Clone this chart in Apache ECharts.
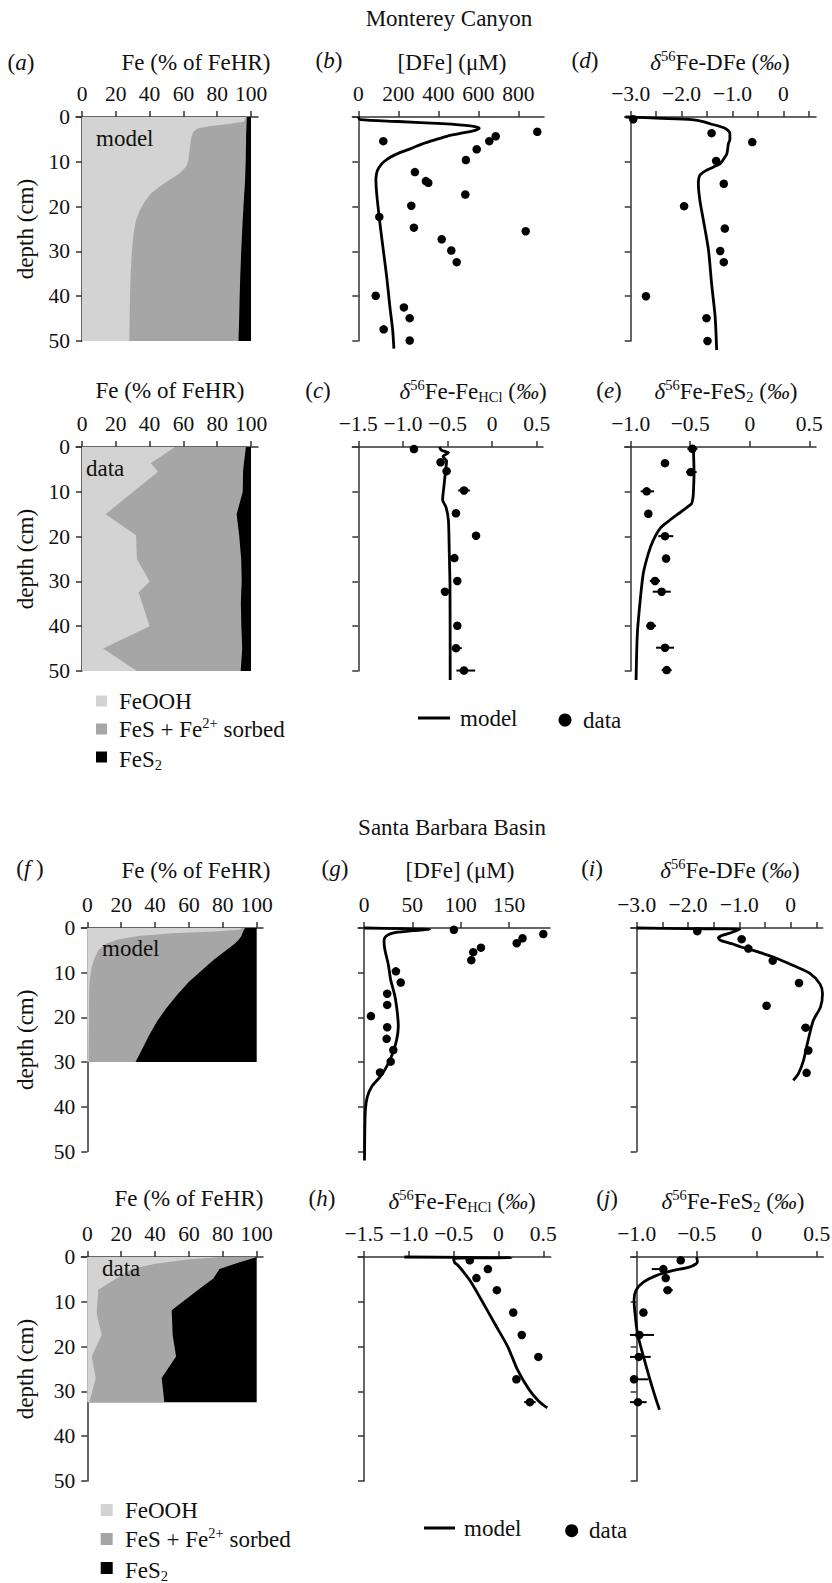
<!DOCTYPE html>
<html lang="en">
<head>
<meta charset="UTF-8">
<title>Fe speciation and isotope profiles</title>
<script src="https://cdn.jsdelivr.net/npm/echarts@6.0.0/dist/echarts.min.js"></script>
<style>
    html, body { margin: 0; padding: 0; background: #fff; }
    #chart { width: 832px; height: 1583px; }
</style>
</head>
<body>
<div id="chart"></div>
<script>
// ---------- Monterey Canyon: solid-phase Fe (% of FeHR) ----------
var mcModelDepth = [0, 1.0, 1.5, 2.0, 2.5, 3.2, 4.5, 7, 9.5, 10.8, 11.8, 12.8, 14, 15.5, 17, 19, 21, 23, 26, 30, 35, 40, 45, 50];
var mcModelFeOOH = [97, 96, 88, 76, 69, 66, 64.7, 63.8, 63, 62, 60, 57, 52, 46, 41, 37, 34, 32, 30.5, 29.5, 28.8, 28.4, 28.2, 28];
var mcModelFeS   = [0.5, 1.4, 9.4, 21.3, 28.3, 31.2, 32.4, 33.2, 33.9, 34.8, 36.7, 39.6, 44.5, 50.3, 55, 58.7, 61.4, 63.1, 64.2, 64.7, 64.9, 64.9, 64.8, 64.6];
var mcModelFeS2  = [2.5, 2.6, 2.6, 2.7, 2.7, 2.8, 2.9, 3, 3.1, 3.2, 3.3, 3.4, 3.5, 3.7, 4, 4.3, 4.6, 4.9, 5.3, 5.8, 6.3, 6.7, 7, 7.4];

var mcDataDepth = [0, 3.6, 5.5, 10, 15, 19.7, 25, 30, 32.5, 35, 40, 45, 50];
var mcDataFeOOH = [55, 40.7, 45, 30.3, 14, 32, 32.5, 40, 33.5, 35.7, 40, 12.5, 32.5];
var mcDataFeS   = [42, 55.1, 50.3, 64.8, 77.5, 61, 61.7, 54.5, 60.7, 58.3, 54.3, 82.3, 61.4];
var mcDataFeS2  = [3, 4.2, 4.7, 4.9, 8.5, 7, 5.8, 5.5, 5.8, 6, 5.7, 5.2, 6.1];

// ---------- Monterey Canyon: [DFe] (uM) ----------
var mcDfeModelDepth = [0, 0.6, 1.0, 1.5, 2.0, 2.5, 3.0, 3.5, 4.2, 5, 6, 7, 8, 9, 10, 11, 12, 13, 14, 16, 18.5, 23.7, 29.7, 35.7, 42.4, 47.6, 51.7];
var mcDfeModel      = [0, 10, 200, 420, 560, 605, 585, 530, 450, 390, 320, 265, 205, 160, 128, 108, 95, 90, 88, 90, 95, 108, 125, 142, 158, 172, 178];
var mcDfeDepth = [3.3, 4.3, 5.4, 5.4, 7.2, 9.6, 12.3, 14.3, 14.7, 17.3, 19.8, 22.3, 24.7, 25.5, 27.3, 29.8, 32.4, 39.9, 42.5, 44.9, 47.4, 49.9];
var mcDfe      = [895, 687, 655, 125, 592, 538, 283, 338, 350, 535, 265, 105, 278, 837, 417, 465, 492, 87, 228, 257, 127, 257];

// ---------- Monterey Canyon: d56Fe-DFe ----------
var mcDfeIsoModelDepth = [0, 0.3, 0.6, 1.0, 1.5, 2.5, 3.6, 5, 6, 8.2, 9.5, 10.4, 11.2, 11.9, 13, 14.9, 18.6, 23.1, 29.8, 37.2, 44.6, 52];
var mcDfeIsoModel      = [-3.1, -2.4, -1.8, -1.6, -1.44, -1.15, -1.05, -1.05, -1.08, -1.11, -1.18, -1.24, -1.38, -1.51, -1.64, -1.67, -1.64, -1.57, -1.47, -1.41, -1.34, -1.31];
var mcDfeIsoDepth = [0.5, 3.6, 5.6, 9.8, 14.9, 19.9, 24.9, 29.9, 32.4, 40, 44.9, 50];
var mcDfeIso      = [-2.95, -1.41, -0.61, -1.32, -1.17, -1.95, -1.15, -1.24, -1.17, -2.70, -1.51, -1.49];

// ---------- Monterey Canyon: d56Fe-FeHCl ----------
var mcHclModelDepth = [0, 0.7, 1.3, 2.1, 3.2, 5, 8.8, 11.8, 13.4, 16.3, 23.7, 31, 52];
var mcHclModel      = [-0.59, -0.57, -0.49, -0.55, -0.51, -0.52, -0.54, -0.555, -0.517, -0.49, -0.48, -0.472, -0.47];
var mcHclDepth = [0.45, 3.4, 5.4, 9.7, 14.8, 19.8, 24.8, 29.9, 32.3, 39.9, 44.9, 49.9];
var mcHcl      = [-0.876, -0.577, -0.51, -0.315, -0.405, -0.18, -0.423, -0.39, -0.528, -0.39, -0.405, -0.315];
var mcHclErr   = [[3.4, -0.62, -0.54], [9.7, -0.38, -0.25], [44.9, -0.45, -0.34], [49.9, -0.40, -0.19]]; // depth, low, high

// ---------- Monterey Canyon: d56Fe-FeS2 ----------
var mcPyModelDepth = [0, 5.9, 10.4, 11.5, 12.6, 13.3, 14.1, 15.2, 16.3, 18.2, 20.8, 23.8, 28.2, 34.2, 41.6, 52];
var mcPyModel      = [-0.474, -0.468, -0.474, -0.478, -0.488, -0.52, -0.558, -0.615, -0.67, -0.754, -0.81, -0.852, -0.894, -0.92, -0.944, -0.955];
var mcPyDepth = [0.4, 3.6, 5.6, 9.9, 14.9, 19.9, 24.9, 29.9, 32.3, 39.9, 44.8, 49.8];
var mcPy      = [-0.482, -0.712, -0.496, -0.866, -0.852, -0.712, -0.703, -0.796, -0.74, -0.832, -0.712, -0.698];
var mcPyErr   = [[0.4, -0.524, -0.44], [5.6, -0.535, -0.446], [9.9, -0.916, -0.804], [19.9, -0.768, -0.642], [29.9, -0.84, -0.754],
                 [32.3, -0.815, -0.664], [39.9, -0.87, -0.787], [44.8, -0.787, -0.636], [49.8, -0.74, -0.656]];

// ---------- Santa Barbara Basin: solid-phase Fe (% of FeHR) ----------
var sbModelDepth = [0, 0.4, 0.8, 1.2, 1.8, 2.6, 3.5, 5, 7, 9, 12, 15, 18, 21, 24, 27, 30];
var sbModelFeOOH = [91, 90, 75, 50, 30, 18, 11, 6.5, 4, 2.5, 1.3, 1.1, 1, 1, 0.9, 0.8, 0.8];
var sbModelFeS   = [2, 2.5, 17, 41.5, 61, 71.5, 76, 75.5, 71, 66.5, 58.7, 51.9, 45.5, 40, 35.6, 31.7, 27.7];
var sbModelFeS2  = [7, 7.5, 8, 8.5, 9, 10.5, 13, 18, 25, 31, 40, 47, 53.5, 59, 63.5, 67.5, 71.5];

var sbDataDepth = [0, 0.5, 1.5, 2.7, 4.8, 7.3, 11.9, 12.6, 17.4, 22.2, 27, 32.4];
var sbDataFeOOH = [80, 60, 40, 26, 17, 6.5, 5.6, 5.5, 8.5, 2.6, 5, 1.2];
var sbDataFeS   = [20, 35.8, 47.3, 52, 57.4, 59, 44.2, 44.4, 41.9, 49.8, 38.9, 44.3];
var sbDataFeS2  = [0, 4.2, 12.7, 22, 25.6, 34.5, 50.2, 50.1, 49.6, 47.6, 56.1, 54.5];

// ---------- Santa Barbara Basin: [DFe] (uM) ----------
var sbDfeModelDepth = [0, 0.15, 0.3, 0.6, 1.0, 1.5, 2.2, 3, 5, 8, 11.6, 15.3, 19, 22, 25, 28, 31, 33.3, 35.5, 37.8, 40.8, 47.5, 52];
var sbDfeModel      = [0, 40, 68, 50, 33, 25, 21.5, 20.7, 21.7, 25, 27.6, 32, 34.5, 35.5, 33.8, 29.7, 23.4, 16.6, 7.9, 3.4, 1.4, 0.7, 0.5];
var sbDfeDepth = [0.4, 1.35, 2.3, 3.4, 4.4, 5.4, 7.2, 9.7, 12.2, 14.7, 17.2, 19.7, 22.2, 24.8, 27.3, 29.9, 32.3];
var sbDfe      = [93, 185.5, 164, 158, 121, 113, 111, 33, 38, 24, 24, 7.2, 24, 23.4, 30.3, 27.6, 16.6];

// ---------- Santa Barbara Basin: d56Fe-DFe ----------
var sbDfeIsoModelDepth = [0, 0.15, 0.3, 1.0, 1.6, 2.2, 2.8, 3.5, 4.3, 5, 6.5, 8.4, 10.2, 12.5, 14.7, 17.7, 20.7, 25.1, 29.6, 32.6, 34.1];
var sbDfeIsoModel      = [-3.0, -2.0, -0.99, -1.15, -1.32, -1.41, -1.36, -1.15, -0.95, -0.73, -0.34, 0.05, 0.38, 0.57, 0.62, 0.58, 0.44, 0.34, 0.25, 0.15, 0.05];
var sbDfeIsoDepth = [0.7, 2.5, 4.6, 7.3, 12.3, 17.4, 22.3, 27.4, 32.4];
var sbDfeIso      = [-1.82, -0.955, -0.825, -0.35, 0.162, -0.47, 0.29, 0.344, 0.31];
var sbDfeIsoErr   = [[22.3, 0.2, 0.37], [27.4, 0.29, 0.4]];

// ---------- Santa Barbara Basin: d56Fe-FeHCl ----------
var sbHclModelDepth = [0, 0.15, 0.35, 1.2, 1.9, 5.2, 9.6, 14.8, 20, 25.2, 29.6, 32.2, 33.7];
var sbHclModel      = [-1.05, 0.14, -0.5, -0.49, -0.45, -0.32, -0.19, -0.044, 0.103, 0.213, 0.342, 0.45, 0.544];
var sbHclDepth = [0.74, 2.7, 4.7, 7.4, 12.4, 17.4, 22.3, 27.3, 32.4];
var sbHcl      = [-0.32, -0.118, -0.246, -0.018, 0.165, 0.26, 0.445, 0.2, 0.35];
var sbHclErr   = [[32.4, 0.287, 0.415]];

// ---------- Santa Barbara Basin: d56Fe-FeS2 ----------
var sbPyModelDepth = [0, 1.1, 2.2, 3.0, 4.1, 5.6, 7.4, 9.6, 12.6, 17, 22.2, 27.4, 31.1, 34.1];
var sbPyModel      = [-0.5, -0.494, -0.556, -0.694, -0.833, -0.944, -1.005, -1.022, -1.014, -0.994, -0.944, -0.889, -0.847, -0.81];
var sbPyDepth = [0.74, 2.7, 4.7, 7.4, 12.4, 17.4, 22.3, 27.3, 32.4];
var sbPy      = [-0.633, -0.778, -0.758, -0.742, -0.944, -0.978, -0.983, -1.022, -0.99];
var sbPyErr   = [[2.7, -0.875, -0.75], [7.4, -0.778, -0.7], [17.4, -1.056, -0.856], [22.3, -1.056, -0.883], [27.3, -1.056, -0.903], [32.4, -1.056, -0.917]];

// ---------- tick labels ----------
var pctTicks = [0, 20, 40, 60, 80, 100];
var mcDfeTicks = [0, 200, 400, 600, 800];
var sbDfeTicks = [0, 50, 100, 150];
var dfeIsoTicks = [-3, -2.5, -2, -1.5, -1, -0.5, 0, 0.5];
var dfeIsoLabels = [-3, -2, -1, 0];
var hclTicks = [-1.5, -1, -0.5, 0, 0.5];
var pyTicks = [-1, -0.5, 0, 0.5];

var FONT = 'Liberation Serif';
var INK = '#111';
var AXIS = '#333';
var EXT = 6;     // top axis line runs a little past the depth axis
var LAYER_COLORS = ['#d3d3d3', '#a6a6a6', '#000000'];
var FS = 23;     // title / name size
var TS = 21.5;   // tick label size

var RICH = {
    n: {fontFamily: FONT, fontSize: FS, fill: INK, lineHeight: 27},
    i: {fontFamily: FONT, fontSize: FS, fill: INK, lineHeight: 27, fontStyle: 'italic'},
    sup: {fontFamily: FONT, fontSize: 14.5, fill: INK, lineHeight: 16, verticalAlign: 'top'},
    sub: {fontFamily: FONT, fontSize: 14.5, fill: INK, lineHeight: 10, verticalAlign: 'bottom'}
};

// left = x of the depth axis, w = distance to end of top axis line, ppu = px per x unit
var panels = [
    {left: 82, top: 117, w: 176, h: 224, min: 0, ppu: 1.69, ticks: pctTicks, labels: pctTicks, dec: 0, depth: true},
    {left: 358.3, top: 117, w: 185.7, h: 224, min: 0, ppu: 0.2, ticks: mcDfeTicks, labels: mcDfeTicks, dec: 0},
    {left: 630.7, top: 117, w: 185.3, h: 224, min: -3, ppu: 50.87, ticks: dfeIsoTicks, labels: dfeIsoLabels, dec: 1},
    {left: 82, top: 447, w: 176, h: 224, min: 0, ppu: 1.69, ticks: pctTicks, labels: pctTicks, dec: 0, depth: true},
    {left: 358.3, top: 447, w: 184.7, h: 224, min: -1.5, ppu: 89.2, ticks: hclTicks, labels: hclTicks, dec: 1},
    {left: 630.7, top: 447, w: 185.3, h: 224, min: -1, ppu: 119.07, ticks: pyTicks, labels: pyTicks, dec: 1},
    {left: 87.3, top: 928, w: 175.7, h: 223.5, min: 0, ppu: 1.694, ticks: pctTicks, labels: pctTicks, dec: 0, depth: true},
    {left: 364, top: 928, w: 186, h: 223.5, min: 0, ppu: 0.9667, ticks: sbDfeTicks, labels: sbDfeTicks, dec: 0},
    {left: 636.7, top: 928, w: 186, h: 223.5, min: -3, ppu: 51.33, ticks: dfeIsoTicks, labels: dfeIsoLabels, dec: 1},
    {left: 87.3, top: 1257, w: 175.7, h: 224, min: 0, ppu: 1.694, ticks: pctTicks, labels: pctTicks, dec: 0, depth: true},
    {left: 364, top: 1257, w: 186.7, h: 224, min: -1.5, ppu: 89.65, ticks: hclTicks, labels: hclTicks, dec: 1},
    {left: 636.7, top: 1257, w: 186.6, h: 224, min: -1, ppu: 120, ticks: pyTicks, labels: pyTicks, dec: 1}
];

function fmt(v, dec) {
    if (Math.abs(v) < 1e-9) return '0';
    return v.toFixed(dec).replace('-', '\u2212');
}

function pairs(xs, ds) {
    return xs.map(function (x, k) { return [x, ds[k]]; });
}

var axisLineStyle = {color: AXIS, width: 1.5};

var grids = panels.map(function (p) {
    return {left: p.left - EXT, top: p.top, width: p.w + EXT, height: p.h,
        containLabel: false, outerBoundsMode: 'none', show: false};
});

var xAxes = panels.map(function (p, k) {
    return {
        gridIndex: k, type: 'value', position: 'top',
        min: p.min - EXT / p.ppu, max: p.min + p.w / p.ppu,
        axisLine: {show: true, onZero: false, lineStyle: axisLineStyle},
        axisTick: {show: true, length: 6, customValues: p.ticks, lineStyle: axisLineStyle},
        axisLabel: {
            show: true, customValues: p.labels, margin: 12, hideOverlap: false,
            fontFamily: FONT, fontSize: TS, color: INK,
            formatter: function (v) { return fmt(v, p.dec); }
        },
        splitLine: {show: false}
    };
});

var yAxes = panels.map(function (p, k) {
    return {
        gridIndex: k, type: 'value', position: 'left', inverse: true,
        min: 0, max: 50, interval: 10, offset: -EXT,
        axisLine: {show: true, onZero: false, lineStyle: axisLineStyle},
        axisTick: {show: true, length: 6, lineStyle: axisLineStyle},
        axisLabel: {show: !!p.depth, margin: 12, fontFamily: FONT, fontSize: TS, color: INK},
        splitLine: {show: false},
        name: p.depth ? 'depth (cm)' : '',
        nameLocation: 'middle',
        nameGap: p.left - 37,
        nameTextStyle: {fontFamily: FONT, fontSize: FS, color: INK}
    };
});

// stacked Fe pools, drawn back to front: FeS2, FeS, FeOOH (each from 0 to its cumulative sum)
function areaSeries(k, depths, layers) {
    return {
        type: 'custom', xAxisIndex: k, yAxisIndex: k, silent: true, z: 1,
        data: [[2, 0], [1, 0], [0, 0]],
        renderItem: function (params, api) {
            var layer = api.value(0);
            var hi = [];
            for (var j = 0; j < depths.length; j++) {
                var cum = 0;
                for (var m = 0; m <= layer; m++) cum += layers[m][j];
                hi.push(api.coord([cum, depths[j]]));
            }
            var lo = [api.coord([0, depths[depths.length - 1]]), api.coord([0, depths[0]])];
            return {type: 'polygon', shape: {points: hi.concat(lo)}, style: {fill: LAYER_COLORS[layer]}};
        }
    };
}

function modelSeries(k, xs, ds) {
    return {
        type: 'line', name: 'model', xAxisIndex: k, yAxisIndex: k, data: pairs(xs, ds),
        showSymbol: false, symbol: 'none', smooth: 0.25, clip: false, silent: true, z: 3,
        lineStyle: {color: '#000', width: 2.8}
    };
}

function dataSeries(k, xs, ds) {
    return {
        type: 'scatter', name: 'data', xAxisIndex: k, yAxisIndex: k, data: pairs(xs, ds),
        symbol: 'circle', symbolSize: 8.5, clip: false, silent: true, z: 5,
        itemStyle: {color: '#000', opacity: 1}
    };
}

function errorSeries(k, bars) {
    return {
        type: 'custom', xAxisIndex: k, yAxisIndex: k, silent: true, z: 4,
        data: bars.map(function (b) { return [b[1], b[2], b[0]]; }),
        encode: {x: [0, 1], y: 2},
        renderItem: function (params, api) {
            var a = api.coord([api.value(0), api.value(2)]);
            var b = api.coord([api.value(1), api.value(2)]);
            return {type: 'line', shape: {x1: a[0], y1: a[1], x2: b[0], y2: b[1]},
                style: {stroke: '#000', lineWidth: 2}};
        }
    };
}

var series = [
    areaSeries(0, mcModelDepth, [mcModelFeOOH, mcModelFeS, mcModelFeS2]),
    modelSeries(1, mcDfeModel, mcDfeModelDepth), dataSeries(1, mcDfe, mcDfeDepth),
    modelSeries(2, mcDfeIsoModel, mcDfeIsoModelDepth), dataSeries(2, mcDfeIso, mcDfeIsoDepth),
    areaSeries(3, mcDataDepth, [mcDataFeOOH, mcDataFeS, mcDataFeS2]),
    modelSeries(4, mcHclModel, mcHclModelDepth), errorSeries(4, mcHclErr), dataSeries(4, mcHcl, mcHclDepth),
    modelSeries(5, mcPyModel, mcPyModelDepth), errorSeries(5, mcPyErr), dataSeries(5, mcPy, mcPyDepth),
    areaSeries(6, sbModelDepth, [sbModelFeOOH, sbModelFeS, sbModelFeS2]),
    modelSeries(7, sbDfeModel, sbDfeModelDepth), dataSeries(7, sbDfe, sbDfeDepth),
    modelSeries(8, sbDfeIsoModel, sbDfeIsoModelDepth), errorSeries(8, sbDfeIsoErr), dataSeries(8, sbDfeIso, sbDfeIsoDepth),
    areaSeries(9, sbDataDepth, [sbDataFeOOH, sbDataFeS, sbDataFeS2]),
    modelSeries(10, sbHclModel, sbHclModelDepth), errorSeries(10, sbHclErr), dataSeries(10, sbHcl, sbHclDepth),
    modelSeries(11, sbPyModel, sbPyModelDepth), errorSeries(11, sbPyErr), dataSeries(11, sbPy, sbPyDepth)
];

function txt(x, y, s, align) {
    return {type: 'text', x: x, y: y, silent: true, z: 10,
        style: {text: s, fontFamily: FONT, fontSize: FS, fill: INK,
            align: align || 'center', verticalAlign: 'middle', rich: RICH}};
}
function rect(x, y, size, color) {
    return {type: 'rect', silent: true, shape: {x: x, y: y, width: size, height: size}, style: {fill: color}};
}

var T_FE = 'Fe (% of FeHR)';
var T_DFE = '[DFe] (\u03bcM)';
var T_ISO_DFE = '{i|\u03b4}{sup|56}{n|Fe-DFe (}{i|\u2030}{n|)}';
var T_ISO_HCL = '{i|\u03b4}{sup|56}{n|Fe-Fe}{sub|HCl}{n| (}{i|\u2030}{n|)}';
var T_ISO_PY = '{i|\u03b4}{sup|56}{n|Fe-FeS}{sub|2}{n| (}{i|\u2030}{n|)}';
var L_FES = '{n|FeS + Fe}{sup|2+}{n| sorbed}';
var L_PY = '{n|FeS}{sub|2}';

var graphic = [
    txt(449, 18, 'Monterey Canyon'),
    txt(21, 62, '{n|(}{i|a}{n|)}'), txt(196, 62, T_FE),
    txt(329, 60, '{n|(}{i|b}{n|)}'), txt(452, 62, T_DFE),
    txt(585, 60, '{n|(}{i|d}{n|)}'), txt(720, 62, T_ISO_DFE),
    txt(170, 390, T_FE),
    txt(318, 390, '{n|(}{i|c}{n|)}'), txt(473, 391, T_ISO_HCL),
    txt(609, 390, '{n|(}{i|e}{n|)}'), txt(726, 391, T_ISO_PY),
    txt(96, 138, 'model', 'left'), txt(86, 468, 'data', 'left'),
    rect(96, 695.5, 11, LAYER_COLORS[0]), txt(119, 701, 'FeOOH', 'left'),
    rect(96, 723.5, 11, LAYER_COLORS[1]), txt(119, 729, L_FES, 'left'),
    rect(96, 751.5, 11, LAYER_COLORS[2]), txt(119, 759, L_PY, 'left'),
    {type: 'line', silent: true, shape: {x1: 418, y1: 718, x2: 450, y2: 718}, style: {stroke: '#000', lineWidth: 3}},
    txt(460, 718, 'model', 'left'),
    {type: 'circle', silent: true, shape: {cx: 565, cy: 720, r: 6.5}, style: {fill: '#000'}},
    txt(583, 720, 'data', 'left'),

    txt(452, 827, 'Santa Barbara Basin'),
    txt(30, 868, '{n|(}{i|f}{n| )}'), txt(196, 870, T_FE),
    txt(335, 868, '{n|(}{i|g}{n|)}'), txt(460, 870, T_DFE),
    txt(592, 868, '{n|(}{i|i}{n|)}'), txt(730, 870, T_ISO_DFE),
    txt(189, 1198, T_FE),
    txt(322, 1198, '{n|(}{i|h}{n|)}'), txt(462, 1201, T_ISO_HCL),
    txt(607, 1198, '{n|(}{i|j}{n|)}'), txt(733, 1201, T_ISO_PY),
    txt(102, 948, 'model', 'left'), txt(102, 1268, 'data', 'left'),
    rect(100.7, 1504, 12, LAYER_COLORS[0]), txt(125, 1510, 'FeOOH', 'left'),
    rect(100.7, 1533, 12, LAYER_COLORS[1]), txt(125, 1539, L_FES, 'left'),
    rect(100.7, 1562, 12, LAYER_COLORS[2]), txt(125, 1570, L_PY, 'left'),
    {type: 'line', silent: true, shape: {x1: 424, y1: 1528, x2: 455, y2: 1528}, style: {stroke: '#000', lineWidth: 3}},
    txt(464, 1528, 'model', 'left'),
    {type: 'circle', silent: true, shape: {cx: 571.7, cy: 1530.7, r: 6.5}, style: {fill: '#000'}},
    txt(589, 1530, 'data', 'left')
];

var chart = echarts.init(document.getElementById('chart'), null, {renderer: 'svg'});
chart.setOption({
    animation: false,
    backgroundColor: '#fff',
    textStyle: {fontFamily: FONT},
    grid: grids,
    xAxis: xAxes,
    yAxis: yAxes,
    series: series,
    graphic: graphic
});
</script>
</body>
</html>
